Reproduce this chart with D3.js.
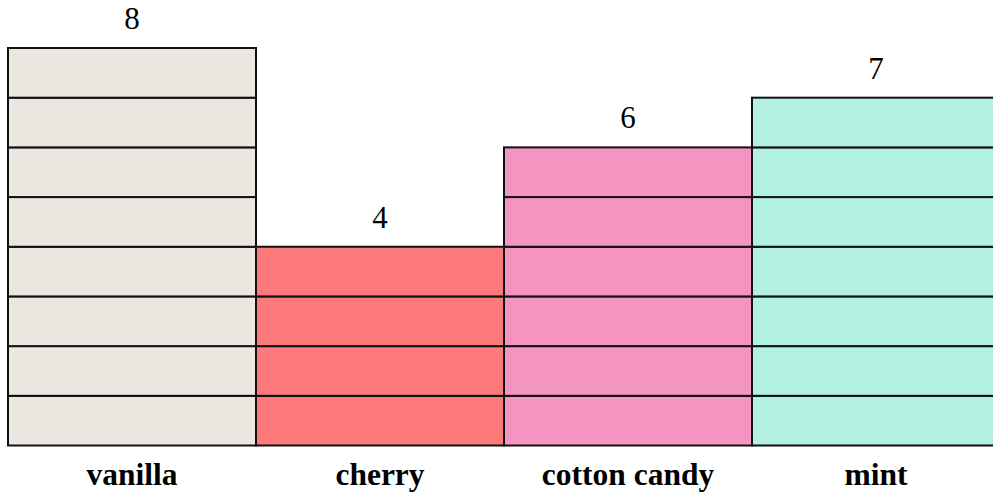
<!DOCTYPE html>
<html>
<head>
<meta charset="utf-8">
<script src="https://cdn.jsdelivr.net/npm/d3@7"></script>
<style>
  html, body { margin: 0; padding: 0; background: #fff; overflow: hidden; }
  svg { display: block; }
</style>
</head>
<body>
<svg class="flavours"></svg>
<script>
(function () {
  var flavours = ["vanilla", "cherry", "cotton candy", "mint"];
  var scoops = [8, 4, 6, 7];
  var colours = ["#ebe7e0", "#fc7a79", "#f495c1", "#b2f0e0"];

  var width = 993;
  var height = 494;
  var margin = {top: 48, right: -7, bottom: 48.5, left: 8};

  var svg = d3.select(".flavours")
      .attr("width", width)
      .attr("height", height);

  var xscale = d3.scaleBand()
    .domain(flavours)
    .range([margin.left, width - margin.right])
    .padding(0);

  var yscale = d3.scaleLinear()
    .domain([0, d3.max(scoops)])
    .range([height - margin.bottom, margin.top]);

  var data = flavours.map(function(f, i) {
    return {name: f, value: scoops[i], colour: colours[i]};
  });

  // one block per unit
  var blocks = [];
  data.forEach(function(d) {
    for (var k = 0; k < d.value; k++) {
      blocks.push({name: d.name, k: k, colour: d.colour});
    }
  });

  svg.append("g").selectAll("rect")
    .data(blocks)
    .enter().append("rect")
      .attr("x", function(d) { return xscale(d.name); })
      .attr("y", function(d) { return yscale(d.k + 1); })
      .attr("width", xscale.bandwidth())
      .attr("height", function(d) { return yscale(d.k) - yscale(d.k + 1); })
      .style("fill", function(d) { return d.colour; })
      .style("stroke", "#111")
      .style("stroke-width", 2);

  svg.append("g").selectAll("text")
    .data(data)
    .enter().append("text")
      .attr("x", function(d) { return xscale(d.name) + xscale.bandwidth() / 2; })
      .attr("y", function(d) { return yscale(d.value) - 19; })
      .attr("text-anchor", "middle")
      .style("font-family", "'Liberation Serif', 'Times New Roman', serif")
      .style("font-size", "31px")
      .style("fill", "#000")
      .text(function(d) { return d.value; });

  var xaxis = d3.axisBottom(xscale).tickSize(0).tickPadding(0);
  var ax = svg.append("g")
    .attr("transform", "translate(0," + (height - margin.bottom) + ")")
    .call(xaxis);
  ax.select(".domain").remove();
  ax.selectAll("text")
    .attr("dy", null)
    .attr("y", 39)
    .style("font-family", "'Liberation Serif', 'Times New Roman', serif")
    .style("font-size", "31.5px")
    .style("font-weight", "bold")
    .style("fill", "#000");
})();
</script>
</body>
</html>
